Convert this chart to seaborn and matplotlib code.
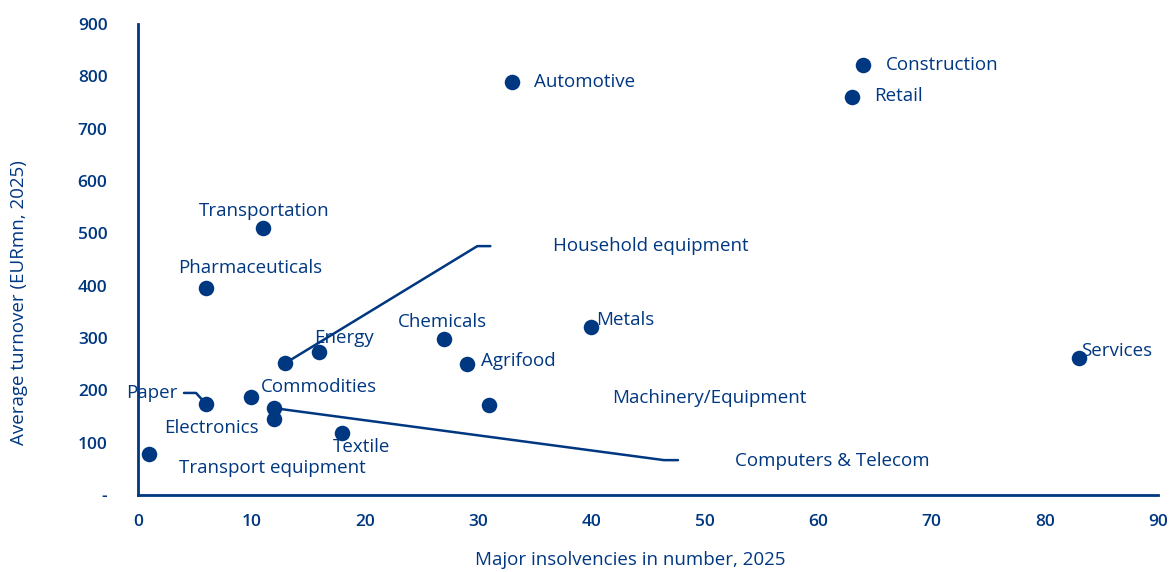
import matplotlib
matplotlib.use("Agg")
import matplotlib.pyplot as plt
import seaborn as sns
import pandas as pd
import numpy as np
from matplotlib import font_manager

sectors = ["Transport equipment", "Pharmaceuticals", "Paper", "Transportation", "Commodities",
           "Computers & Telecom", "Electronics", "Household equipment", "Energy", "Textile",
           "Chemicals", "Agrifood", "Machinery/Equipment", "Automotive", "Metals", "Retail",
           "Construction", "Services"]
insolvencies = [1, 6, 6, 11, 10, 12, 12, 13, 16, 18, 27, 29, 31, 33, 40, 63, 64, 83]
turnover = [78, 396, 174, 510, 188, 166, 146, 252, 273, 119, 298, 250, 172, 790, 321, 761, 822, 262]
x_ticks = [0, 10, 20, 30, 40, 50, 60, 70, 80, 90]
y_ticks = [0, 100, 200, 300, 400, 500, 600, 700, 800, 900]
y_tick_labels = ["-", "100", "200", "300", "400", "500", "600", "700", "800", "900"]

BLUE = "#003781"

sns.set_style("white")
avail = {f.name for f in font_manager.fontManager.ttflist}
main_font = "Open Sans" if "Open Sans" in avail else "DejaVu Sans"
narrow = "Liberation Sans Narrow" if "Liberation Sans Narrow" in avail else main_font
plt.rcParams["font.family"] = [main_font, "DejaVu Sans"]

df = pd.DataFrame({"sector": sectors, "x": insolvencies, "y": turnover})

W, H = 1172, 572
fig = plt.figure(figsize=(W / 100, H / 100), dpi=100)
ax = fig.add_axes([138 / W, 1 - 495 / H, (1158 - 138) / W, (495 - 24) / H])
sns.scatterplot(data=df, x="x", y="y", ax=ax, color=BLUE, s=125, edgecolor=BLUE, linewidth=0, zorder=3)

ax.set_xlim(0, 90)
ax.set_ylim(0, 900)
ax.set_xticks(x_ticks)
ax.set_yticks(y_ticks)
ax.set_yticklabels(y_tick_labels)
ax.tick_params(axis="both", length=0, colors=BLUE, labelsize=12.5)
ax.tick_params(axis="x", pad=14)
ax.tick_params(axis="y", pad=22)
for lab in ax.get_xticklabels() + ax.get_yticklabels():
    lab.set_fontweight("semibold")
    lab.set_color(BLUE)
for s in ["top", "right"]:
    ax.spines[s].set_visible(False)
for s in ["left", "bottom"]:
    ax.spines[s].set_color(BLUE)
    ax.spines[s].set_linewidth(2)

ax.set_xlabel("Major insolvencies in number, 2025", color=BLUE, fontsize=13.5, family=[narrow, "DejaVu Sans"])
ax.set_ylabel("Average turnover (EURmn, 2025)", color=BLUE, fontsize=13.5, family=[narrow, "DejaVu Sans"])
ax.xaxis.set_label_coords((630 - 138) / 1020, -(551 - 495) / 471)
ax.yaxis.set_label_coords(-(138 - 28) / 1020, (495 - 303) / 471)

# label placement: (dx, dy) pixel offsets, horizontal alignment
label_pos = {
    "Transport equipment": (30, -14, "left"),
    "Pharmaceuticals": (44, 20, "center"),
    "Paper": (-29, 11, "right"),
    "Transportation": (2, 17, "center"),
    "Commodities": (10, 10, "left"),
    "Computers & Telecom": (461, -53, "left"),
    "Electronics": (-63, -9, "center"),
    "Household equipment": (268, 117, "left"),
    "Energy": (-5, 14, "left"),
    "Textile": (-9, -14, "left"),
    "Chemicals": (-46, 17, "left"),
    "Agrifood": (14, 3, "left"),
    "Machinery/Equipment": (123, 7, "left"),
    "Automotive": (22, 0, "left"),
    "Metals": (5, 7, "left"),
    "Retail": (22, 1, "left"),
    "Construction": (23, 0, "left"),
    "Services": (2, 7, "left"),
}
for name, xv, yv in zip(sectors, insolvencies, turnover):
    dx, dy, ha = label_pos[name]
    ax.annotate(name, (xv, yv), xytext=(dx, dy), textcoords="offset pixels",
                ha=ha, va="center", color=BLUE, fontsize=13.5, fontweight="medium", zorder=4)

leaders = {
    "Household equipment": [(0, 0), (192, 117), (205, 117)],
    "Computers & Telecom": [(0, 0), (390, -52), (404, -52)],
    "Paper": [(0, 0), (-10, 11), (-22, 11)],
}
inv = ax.transData.inverted()
for name, pts in leaders.items():
    i = sectors.index(name)
    base = ax.transData.transform((insolvencies[i], turnover[i]))
    data_pts = inv.transform(np.array([[base[0] + px, base[1] + py] for px, py in pts]))
    ax.plot(data_pts[:, 0], data_pts[:, 1], color=BLUE, lw=1.8, zorder=2, clip_on=False)

fig.savefig("out.png", dpi=100)
